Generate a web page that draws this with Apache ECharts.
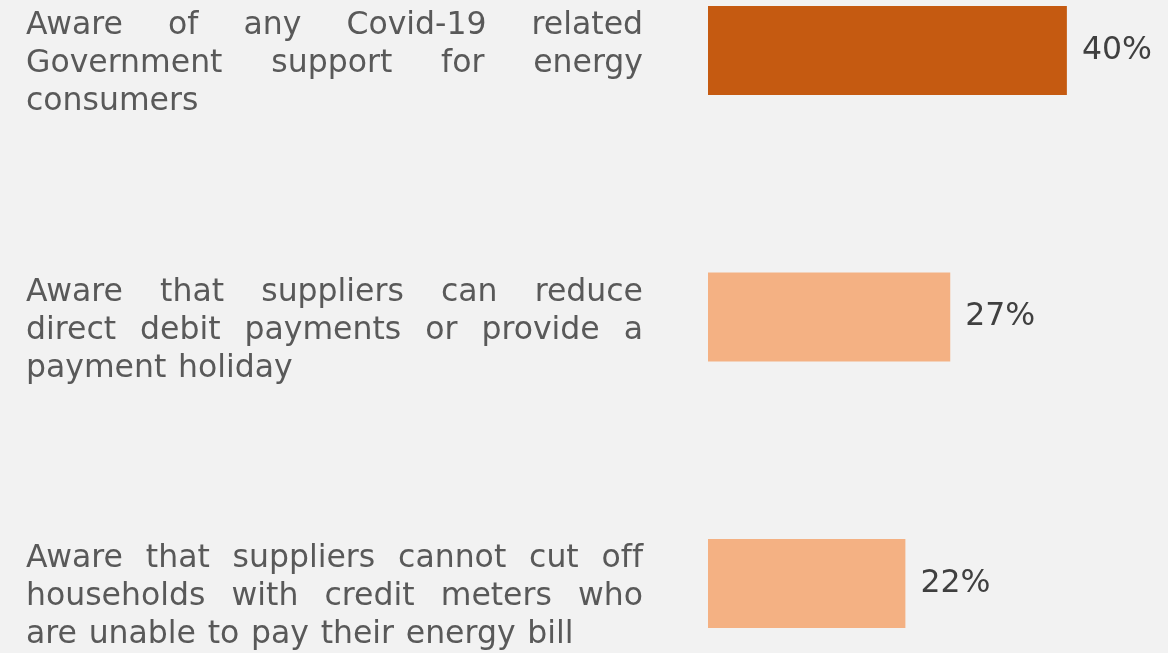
<!DOCTYPE html>
<html>
<head>
<meta charset="utf-8">
<script src="https://cdn.jsdelivr.net/npm/echarts@6/dist/echarts.min.js"></script>
<style>
  html, body { margin: 0; padding: 0; background: #f2f2f2; }
  #chart { width: 1168px; height: 653px; }
</style>
</head>
<body>
<div id="chart"></div>
<script>
// Survey statements (one per bar) and the share of respondents aware of each
const categories = [
  'Aware of any Covid-19 related Government support for energy consumers',
  'Aware that suppliers can reduce direct debit payments or provide a payment holiday',
  'Aware that suppliers cannot cut off households with credit meters who are unable to pay their energy bill'
];
// How each statement wraps in its text block
const categoryLines = [
  ['Aware of any Covid-19 related', 'Government support for energy', 'consumers'],
  ['Aware that suppliers can reduce', 'direct debit payments or provide a', 'payment holiday'],
  ['Aware that suppliers cannot cut off', 'households with credit meters who', 'are unable to pay their energy bill']
];
const values = [40, 27, 22];
const highlightIndex = 0;

const FONT_SIZE = 31.5;
const FONT_FAMILY = '"DejaVu Sans", Verdana, sans-serif';
const LINE_HEIGHT = 38;
const BLOCK_WIDTH = 617;
const WORD_SPACE = 11.7;

// Justified text: every line but the last is stretched to the block width
const measure = document.createElement('canvas').getContext('2d');
measure.font = FONT_SIZE + 'px ' + FONT_FAMILY;
const rich = {
  w: { fontSize: FONT_SIZE, fontFamily: FONT_FAMILY, color: '#595959', lineHeight: LINE_HEIGHT },
  sp: { width: WORD_SPACE, fontSize: FONT_SIZE, fontFamily: FONT_FAMILY, lineHeight: LINE_HEIGHT }
};
function noLigature(word) {
  // keep "ff" as two separate glyphs
  return word.replace(/ff/g, 'f\u200Cf');
}
function justify(lines, ci) {
  return lines.map(function (line, li) {
    const words = line.split(' ').map(noLigature);
    const parts = words.map(function (w) { return '{w|' + w + '}'; });
    if (li === lines.length - 1 || words.length < 2) return parts.join('{sp| }');
    const used = words.reduce(function (s, w) { return s + measure.measureText(w).width; }, 0);
    const gap = (BLOCK_WIDTH - used) / (words.length - 1);
    const key = 'g' + ci + '_' + li;
    rich[key] = { width: gap, fontSize: FONT_SIZE, fontFamily: FONT_FAMILY, lineHeight: LINE_HEIGHT };
    return parts.join('{' + key + '| }');
  }).join('\n');
}
const labelText = {};
categories.forEach(function (c, i) { labelText[c] = justify(categoryLines[i], i); });

const chart = echarts.init(document.getElementById('chart'), null, { renderer: 'canvas' });
chart.setOption({
  animation: false,
  backgroundColor: '#f2f2f2',
  grid: {
    left: 708,
    top: -82.75,
    width: 448.6,
    height: 799.5,
    containLabel: false,
    outerBoundsMode: 'none'
  },
  xAxis: {
    type: 'value',
    min: 0,
    max: 50,
    show: false
  },
  yAxis: {
    type: 'category',
    data: categories,
    inverse: true,
    axisLine: { show: false },
    axisTick: { show: false },
    splitLine: { show: false },
    axisLabel: {
      interval: 0,
      align: 'left',
      verticalAlign: 'middle',
      margin: 682,
      padding: [27, 0, 0, 0],
      formatter: function (value) { return labelText[value]; },
      rich: rich
    }
  },
  series: [{
    type: 'bar',
    barWidth: 89,
    data: values.map(function (v, i) {
      return { value: v, itemStyle: { color: i === highlightIndex ? '#c55a11' : '#f4b183' } };
    }),
    label: {
      show: true,
      position: 'right',
      distance: 15,
      formatter: '{c}%',
      color: '#404040',
      fontSize: FONT_SIZE,
      fontFamily: FONT_FAMILY
    }
  }]
});
</script>
</body>
</html>
